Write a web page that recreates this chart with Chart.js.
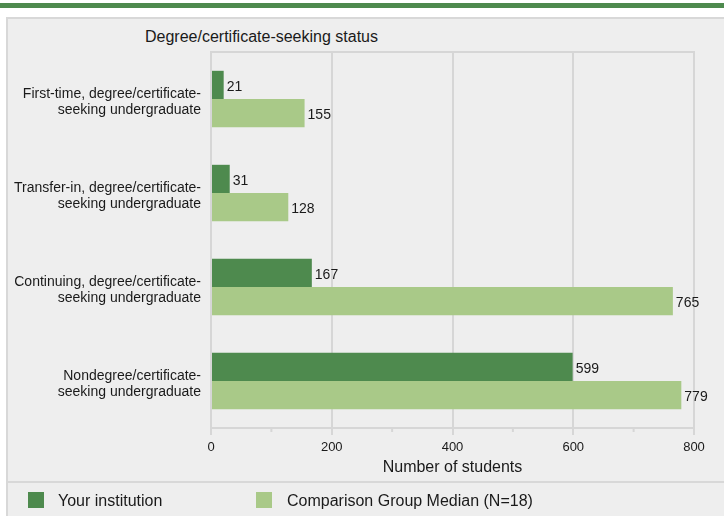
<!DOCTYPE html>
<html>
<head>
<meta charset="utf-8">
<script src="https://cdn.jsdelivr.net/npm/chart.js@4.4.1/dist/chart.umd.min.js"></script>
<style>
  body { margin: 0; background: #fff; font-family: "Liberation Sans", Arial, sans-serif; }
  #topBar { position: absolute; left: 0; top: 3px; width: 724px; height: 5px; background: #4e8a4e; }
  #panel { position: absolute; left: 6px; top: 17px; width: 718px; height: 499px; background: #eeeeee;
           border-left: 2px solid #d8d8d8; border-top: 2px solid #d8d8d8; box-sizing: border-box; }
  #chartTitle { position: absolute; left: 145px; top: 28px; font-size: 16px; color: #1a1a1a; }
  #chartContainer { position: absolute; left: 0; top: 0; width: 724px; height: 482px; }
  #legendLine { position: absolute; left: 6px; top: 481px; width: 718px; height: 2px; background: #d8d8d8; }
  #legend { position: absolute; left: 0; top: 491px; width: 724px; height: 22px; }
  .legendItem { position: absolute; top: 0; font-size: 16px; color: #1a1a1a; line-height: 20px; }
  .legendItem span { position: absolute; top: 1px; width: 16px; height: 16px; }
</style>
</head>
<body>
<div id="topBar"></div>
<div id="panel"></div>
<div id="chartTitle">Degree/certificate-seeking status</div>
<div id="chartContainer"><canvas id="myChart" width="724" height="482"></canvas></div>
<div id="legendLine"></div>
<div id="legend"></div>

<script>
// Chart values.
var categories = [
  ["First-time, degree/certificate-", "seeking undergraduate"],
  ["Transfer-in, degree/certificate-", "seeking undergraduate"],
  ["Continuing, degree/certificate-", "seeking undergraduate"],
  ["Nondegree/certificate-", "seeking undergraduate"]
];
var institutionValues = [21, 31, 167, 599];
var comparisonValues = [155, 128, 765, 779];
var seriesNames = ["Your institution", "Comparison Group Median (N=18)"];
var seriesColors = ["#4e8a4e", "#a9c988"];
var xTicks = [0, 200, 400, 600, 800];

var gridColor = "#d6d6d6";
var fontFamily = "'Liberation Sans', Arial, sans-serif";

// Writes each bar's value just to the right of the bar.
var valueLabels = {
  id: "valueLabels",
  afterDatasetsDraw: function(chart) {
    var ctx = chart.ctx;
    ctx.save();
    ctx.font = "14px " + fontFamily;
    ctx.fillStyle = "#1a1a1a";
    ctx.textAlign = "left";
    ctx.textBaseline = "middle";
    chart.data.datasets.forEach(function(ds, i) {
      chart.getDatasetMeta(i).data.forEach(function(bar, j) {
        ctx.fillText(ds.data[j], bar.x + 3, bar.y + 2);
      });
    });
    ctx.restore();
  }
};

// Frame round the plot area and short minor ticks under the axis.
var plotFrame = {
  id: "plotFrame",
  beforeDatasetsDraw: function(chart) {
    var ctx = chart.ctx;
    var area = chart.chartArea;
    var xScale = chart.scales.x;
    ctx.save();
    ctx.strokeStyle = gridColor;
    ctx.lineWidth = 2;
    ctx.strokeRect(area.left, area.top, area.right - area.left, area.bottom - area.top);
    for (let i = 0; i < xTicks.length - 1; i++) {
      var px = xScale.getPixelForValue((xTicks[i] + xTicks[i + 1]) / 2);
      ctx.beginPath();
      ctx.moveTo(px, area.bottom);
      ctx.lineTo(px, area.bottom + 4);
      ctx.stroke();
    }
    ctx.restore();
  }
};

function loadChart() {
  var ctx = document.getElementById("myChart");
  new Chart(ctx, {
    type: "bar",
    data: {
      labels: categories,
      datasets: [
        {
          label: seriesNames[0],
          data: institutionValues,
          backgroundColor: seriesColors[0],
          categoryPercentage: 0.6,
          barPercentage: 1
        },
        {
          label: seriesNames[1],
          data: comparisonValues,
          backgroundColor: seriesColors[1],
          categoryPercentage: 0.6,
          barPercentage: 1
        }
      ]
    },
    options: {
      indexAxis: "y",
      responsive: false,
      animation: false,
      layout: { padding: { top: 52, right: 30, left: 0, bottom: 0 } },
      plugins: {
        legend: { display: false },
        tooltip: { enabled: false }
      },
      scales: {
        x: {
          min: xTicks[0],
          max: xTicks[xTicks.length - 1],
          afterBuildTicks: function(scale) {
            scale.ticks = xTicks.map(v => ({ value: v }));
          },
          afterFit: function(scale) { scale.height = 54; },
          grid: { color: gridColor, lineWidth: 2, tickLength: 7, tickColor: gridColor },
          border: { color: gridColor, width: 2 },
          ticks: {
            padding: 5,
            color: "#1a1a1a",
            font: { family: fontFamily, size: 13 }
          },
          title: {
            display: true,
            text: "Number of students",
            color: "#1a1a1a",
            padding: { top: 2, bottom: 5 },
            font: { family: fontFamily, size: 16 }
          }
        },
        y: {
          afterFit: function(scale) { scale.width = 211; },
          grid: { display: false, drawTicks: false },
          border: { display: false },
          ticks: {
            padding: 10,
            labelOffset: 3,
            color: "#1a1a1a",
            font: { family: fontFamily, size: 14, lineHeight: 1.15 }
          }
        }
      }
    },
    plugins: [plotFrame, valueLabels]
  });
}

// Legend below the separator line, built from the series arrays.
function loadLegend() {
  var legend = document.getElementById("legend");
  var lefts = [28, 256];
  for (let i = 0; i < seriesNames.length; i++) {
    var item = document.createElement("div");
    item.className = "legendItem";
    item.style.left = lefts[i] + "px";
    item.style.paddingLeft = (i === 0 ? 30 : 31) + "px";
    item.innerHTML = '<span style="left:0;background:' + seriesColors[i] + '"></span>' + seriesNames[i];
    legend.appendChild(item);
  }
}

loadChart();
loadLegend();
</script>
</body>
</html>
